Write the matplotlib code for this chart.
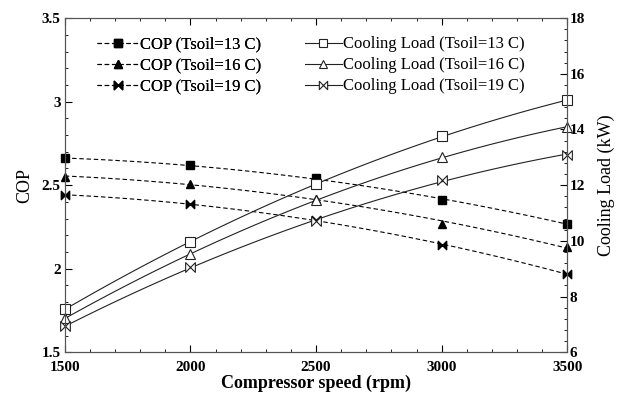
import numpy as np
import matplotlib
matplotlib.use("Agg")
import matplotlib.pyplot as plt
from matplotlib.path import Path
from matplotlib.ticker import MultipleLocator, FuncFormatter

plt.rcParams['font.family'] = ['Liberation Serif', 'DejaVu Serif']

# data
speed = [1500, 2000, 2500, 3000, 3500]
cop_13 = [2.66, 2.62, 2.54, 2.41, 2.27]
cop_16 = [2.55, 2.51, 2.42, 2.27, 2.13]
cop_19 = [2.44, 2.39, 2.29, 2.14, 1.97]
load_13 = [7.55, 9.95, 12.05, 13.75, 15.05]
load_16 = [7.22, 9.52, 11.45, 13.0, 14.09]
load_19 = [6.93, 9.05, 10.7, 12.18, 13.1]
cop_labels = ['COP (Tsoil=13 C)', 'COP (Tsoil=16 C)', 'COP (Tsoil=19 C)']
load_labels = ['Cooling Load (Tsoil=13 C)', 'Cooling Load (Tsoil=16 C)',
               'Cooling Load (Tsoil=19 C)']

# bowtie marker
bowtie = Path([(-1, 1), (-1, -1), (1, 1), (1, -1), (-1, 1)],
              [Path.MOVETO, Path.LINETO, Path.LINETO, Path.LINETO, Path.CLOSEPOLY])
markers = ['s', '^', bowtie]


def smooth(x, y):
    # smooth curve through the points, like the original plot
    xs = np.linspace(min(x), max(x), 100)
    return xs, np.polyval(np.polyfit(x, y, 2), xs)


fig = plt.figure(figsize=(6.24, 3.94), dpi=100)
ax = fig.add_axes([0.104, 0.106, 0.805, 0.848])
ax2 = ax.twinx()

cop_handles = []
for vals, m in zip([cop_13, cop_16, cop_19], markers):
    xs, ys = smooth(speed, vals)
    ax.plot(xs, ys, '--', color='black', lw=0.8, dashes=(4, 2.5))
    ax.plot(speed, vals, ls='none', marker=m, ms=6, color='black', clip_on=False)
    h, = ax.plot([], [], '--', color='black', lw=0.8, dashes=(4, 2.5), marker=m, ms=6)
    cop_handles.append(h)

load_handles = []
for vals, m in zip([load_13, load_16, load_19], markers):
    xs, ys = smooth(speed, vals)
    ax2.plot(xs, ys, '-', color='#222222', lw=0.8)
    ax2.plot(speed, vals, ls='none', marker=m, ms=7, mfc='white', mec='#222222',
             mew=0.8, clip_on=False)
    h, = ax2.plot([], [], '-', color='#222222', lw=0.8, marker=m, ms=6,
                  mfc='white', mec='#222222', mew=0.8)
    load_handles.append(h)

ax.set_xlim(1500, 3500)
ax.set_ylim(1.5, 3.5)
ax2.set_ylim(6, 18)
ax.xaxis.set_major_locator(MultipleLocator(500))
ax.xaxis.set_minor_locator(MultipleLocator(100))
ax.yaxis.set_major_locator(MultipleLocator(0.5))
ax.yaxis.set_minor_locator(MultipleLocator(0.1))
ax.yaxis.set_major_formatter(FuncFormatter(lambda v, p: f'{v:g}'))
ax2.yaxis.set_major_locator(MultipleLocator(2))
ax2.yaxis.set_minor_locator(MultipleLocator(0.4))

ax.tick_params(which='both', direction='in', top=True, labelsize=11)
ax.tick_params(axis='x', pad=6.5)
ax.tick_params(axis='y', pad=3)
ax.tick_params(which='major', length=5)
ax.tick_params(which='minor', length=2.5)
ax2.tick_params(which='both', direction='in', labelsize=11, pad=2)
ax2.tick_params(which='major', length=5)
ax2.tick_params(which='minor', length=2.5)
for lbl in ax.get_xticklabels() + ax.get_yticklabels() + ax2.get_yticklabels():
    lbl.set_fontweight('bold')

for a in (ax, ax2):
    for s in a.spines.values():
        s.set_color('#555555')

ax.set_xlabel('Compressor speed (rpm)', fontsize=13, fontweight='bold', labelpad=0)
ax.set_ylabel('COP', fontsize=13, labelpad=6)
ax2.set_ylabel('Cooling Load (kW)', fontsize=13, labelpad=9)

leg1 = ax.legend(cop_handles, cop_labels, loc='upper left', bbox_to_anchor=(0.05, 0.965),
                 frameon=False, fontsize=12, handlelength=2.5, handletextpad=0.1,
                 labelspacing=0.3, borderaxespad=0)
ax2.legend(load_handles, load_labels, loc='upper left', bbox_to_anchor=(0.465, 0.965),
           frameon=False, fontsize=12, handlelength=2.2, handletextpad=0.1,
           labelspacing=0.3, borderaxespad=0)
ax.add_artist(leg1)

fig.savefig('out.png', dpi=100)
